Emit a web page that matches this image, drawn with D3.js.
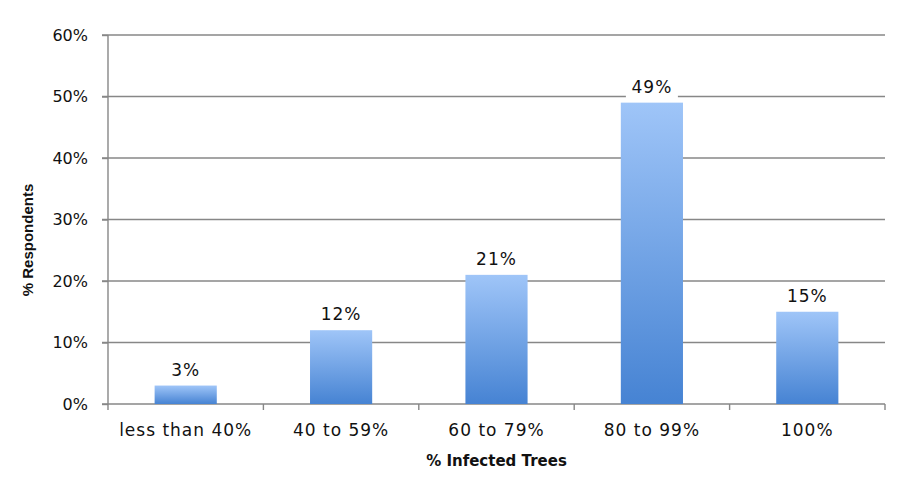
<!DOCTYPE html>
<html><head><meta charset="utf-8">
<script src="https://cdn.jsdelivr.net/npm/d3@7"></script>
<style>body{margin:0;background:#fff}</style>
</head><body>
<svg id="c" width="907" height="480"></svg>
<script>
const categories = ["less than 40%", "40 to 59%", "60 to 79%", "80 to 99%", "100%"];
const values = [3, 12, 21, 49, 15];
const yTicks = [0, 10, 20, 30, 40, 50, 60];
const xTitle = "% Infected Trees";
const yTitle = "% Respondents";

const svg = d3.select("#c");
const m = {l:108, r:885, t:35, b:404};
const x = d3.scaleBand().domain(categories).range([m.l, m.r]).paddingInner(0.6).paddingOuter(0.3);
const xb = d3.scaleBand().domain(categories).range([m.l, m.r]);
const y = d3.scaleLinear().domain([0, 60]).range([m.b, m.t]);
const FONT = "DejaVu Sans, Verdana, sans-serif";

const defs = svg.append("defs");
const g = defs.append("linearGradient").attr("id","bg").attr("x1",0).attr("x2",0).attr("y1",0).attr("y2",1);
g.append("stop").attr("offset","0%").attr("stop-color","#9fc5f8");
g.append("stop").attr("offset","100%").attr("stop-color","#4683d3");

// gridlines
svg.append("g").selectAll("line").data(yTicks.filter(d=>d>0)).join("line")
  .attr("x1", m.l - 6).attr("x2", m.r).attr("y1", d=>y(d)).attr("y2", d=>y(d))
  .attr("stroke","#878787").attr("stroke-width",1.4);

// y axis
const ya = svg.append("g").attr("transform",`translate(${m.l},0)`)
  .call(d3.axisLeft(y).tickValues(yTicks).tickFormat(d=>d+"%").tickSize(6).tickPadding(14));
ya.select(".domain").attr("stroke","#878787").attr("stroke-width",1.4).attr("d",`M0,${m.t}V${m.b}`);
ya.selectAll(".tick line").attr("stroke","#878787").attr("stroke-width",1.4);
ya.selectAll("text").attr("font-family",FONT).attr("font-size",16).attr("fill","#111");

// x axis
const xa = svg.append("g").attr("transform",`translate(0,${m.b})`);
xa.append("line").attr("x1",m.l-6).attr("x2",m.r).attr("stroke","#878787").attr("stroke-width",1.4);
xa.selectAll("line.t").data(categories.concat([null])).join("line").attr("class","t")
  .attr("x1",(d,i)=>m.l + i*xb.bandwidth()).attr("x2",(d,i)=>m.l + i*xb.bandwidth())
  .attr("y1",0).attr("y2",6).attr("stroke","#878787").attr("stroke-width",1.4);
xa.selectAll("text").data(categories).join("text")
  .attr("x", d=>xb(d)+xb.bandwidth()/2).attr("y", 32).attr("text-anchor","middle")
  .attr("font-family",FONT).attr("font-size",17).attr("letter-spacing",1).attr("fill","#111")
  .text(d=>d);

// bars
svg.append("g").selectAll("rect").data(values).join("rect")
  .attr("x",(d,i)=>x(categories[i])).attr("width",x.bandwidth())
  .attr("y",d=>y(d)).attr("height",d=>m.b-y(d)).attr("fill","url(#bg)");

// labels
const lg = svg.append("g").selectAll("g").data(values).join("g");
lg.append("rect").attr("x",(d,i)=>x(categories[i])+x.bandwidth()/2-26).attr("width",52)
  .attr("y",d=>y(d)-26).attr("height",22).attr("fill","#fff");
lg.append("text").attr("x",(d,i)=>x(categories[i])+x.bandwidth()/2).attr("y",d=>y(d)-10)
  .attr("text-anchor","middle").attr("font-family",FONT)
  .attr("font-size",17).attr("letter-spacing",1).attr("fill","#111").text(d=>d+"%");

// titles
svg.append("text").attr("x",(m.l+m.r)/2).attr("y",466).attr("text-anchor","middle")
  .attr("font-family",FONT).attr("font-weight","bold").attr("font-size",15)
  .attr("fill","#111").text(xTitle);
svg.append("text").attr("transform","translate(33,240) rotate(-90)").attr("text-anchor","middle")
  .attr("font-family","Liberation Sans Narrow, Liberation Sans, Arial, sans-serif").attr("font-weight","bold").attr("font-size",15)
  .attr("fill","#111").text(yTitle);
</script>
</body></html>
